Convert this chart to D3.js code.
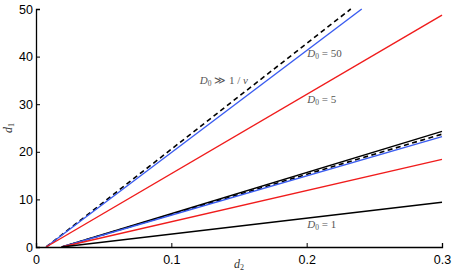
<!DOCTYPE html>
<html>
<head>
<meta charset="utf-8">
<script src="https://cdn.jsdelivr.net/npm/d3@7"></script>
<style>
body {margin:0; background:#fff;}
.tick text {font-family: "Liberation Sans", Arial, sans-serif; font-size: 12.5px; fill:#000;}
.lab {font-family: "Liberation Serif", "DejaVu Serif", serif; font-size: 11px; fill:#555;}
.lab .it {font-style: italic;}
</style>
</head>
<body>
<svg width=455 height=273></svg>
<script>
// x ticks and y ticks
var xTicks = [0, 0.1, 0.2, 0.3];
var yTicks = [0, 10, 20, 30, 40, 50];

// each line: start point and end point in data units
var lineStart = [0.0075, 0.0075, 0.0075, 0.019, 0.019, 0.019, 0.019, 0.019];
var lineEndX  = [0.2326, 0.2407, 0.3, 0.3, 0.3, 0.3, 0.3, 0.3];
var lineEndY  = [50, 50, 48.7, 24.3, 23.7, 23.2, 18.4, 9.4];
var lineColor = ["#000", "#3a5cf0", "#f01c1c", "#000", "#000", "#3a5cf0", "#f01c1c", "#000"];
var lineDash  = [true, false, false, false, true, false, false, false];

// label text after "D0"
var labels = [" \u226B 1 / ", " = 50", " = 5", " = 1"];
var labelX = [0.121, 0.2005, 0.2005, 0.2005];
var labelY = [34.3, 40.0, 30.3, 3.9];

var svg = d3.select("svg");
var x = d3.scaleLinear().domain([0, 0.3]).range([36, 442]);
var y = d3.scaleLinear().domain([0, 50]).range([247, 9]);

var data = lineStart.map(function(s, i) {
  return {pts: [[s, 0], [lineEndX[i], lineEndY[i]]], c: lineColor[i], d: lineDash[i]};
});
var line = d3.line().x(function(p){return x(p[0]);}).y(function(p){return y(p[1]);});

svg.selectAll("path.l").data(data).enter().append("path")
  .attr("class", "l")
  .attr("d", function(d){return line(d.pts);})
  .attr("fill", "none")
  .attr("stroke", function(d){return d.c;})
  .attr("stroke-width", function(d){return d.d ? 1.6 : 1.4;})
  .attr("stroke-dasharray", function(d){return d.d ? "5,3.5" : null;});

var xa = svg.append("g").attr("transform", "translate(0,247)")
  .call(d3.axisBottom(x).tickValues(xTicks).tickSize(-4).tickPadding(6).tickFormat(d3.format("~g")));
var ya = svg.append("g").attr("transform", "translate(36,0)")
  .call(d3.axisLeft(y).tickValues(yTicks).tickSize(-4).tickPadding(3));
svg.selectAll(".domain").attr("stroke", "#000").attr("stroke-width", 1.3);
svg.selectAll(".tick line").attr("stroke", "#000");
xa.selectAll(".tick text").attr("dy", "0.85em");

var lab = svg.selectAll("text.lab").data(labels).enter().append("text")
  .attr("class", "lab")
  .attr("x", function(d, i){return x(labelX[i]);})
  .attr("y", function(d, i){return y(labelY[i]);});
lab.append("tspan").attr("class", "it").text("D");
lab.append("tspan").attr("font-size", "7.5").attr("dy", 2).text("0");
lab.append("tspan").attr("dy", -2).style("white-space", "pre").text(function(d){return d;});
lab.filter(function(d, i){return i === 0;}).append("tspan").attr("class", "it").text("\u03BD");

svg.append("text").attr("class", "lab").style("font-size", "12px").style("fill", "#333")
  .attr("transform", "translate(12,128) rotate(-90)").attr("text-anchor", "middle")
  .html("<tspan font-style='italic'>d</tspan><tspan font-size='8' dy='2'>1</tspan>");
svg.append("text").attr("class", "lab").style("font-size", "12px").style("fill", "#333")
  .attr("x", 239).attr("y", 268).attr("text-anchor", "middle")
  .html("<tspan font-style='italic'>d</tspan><tspan font-size='8' dy='2'>2</tspan>");
</script>
</body>
</html>
